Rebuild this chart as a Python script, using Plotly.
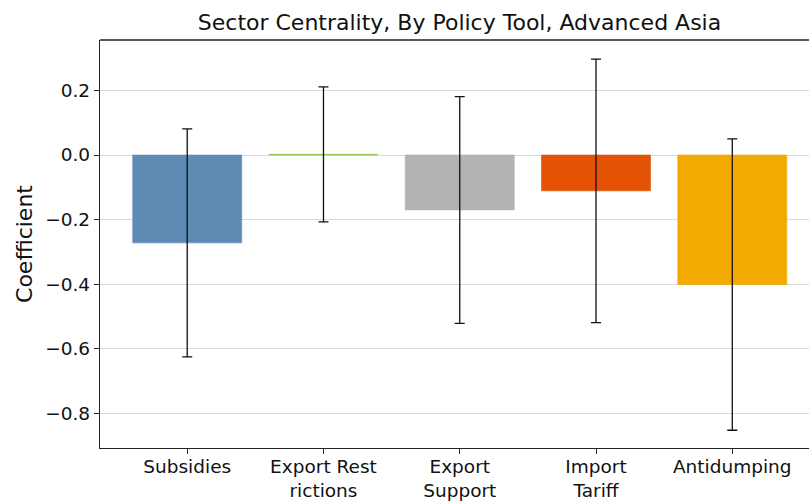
import plotly.graph_objects as go

# Regression coefficients with 95% confidence half-widths, by policy tool
categories = ["Subsidies", "Export Rest<br>rictions", "Export<br>Support", "Import<br>Tariff", "Antidumping"]
coefficients = [-0.272, 0.002, -0.170, -0.111, -0.401]
error_halfwidths = [0.353, 0.209, 0.351, 0.408, 0.451]
bar_colors = ["#5f8ab4", "#8cc63e", "#b2b3b2", "#e35205", "#f2a900"]

positions = list(range(len(categories)))

fig = go.Figure()
fig.add_trace(go.Bar(
    x=positions,
    y=coefficients,
    width=0.8,
    marker=dict(color=bar_colors, line=dict(color=bar_colors, width=0.6)),
    error_y=dict(type="data", array=error_halfwidths, visible=True,
                 color="#111111", thickness=1.3, width=5),
    showlegend=False,
))

font_family = "DejaVu Sans"
fig.update_layout(
    width=809,
    height=502,
    margin=dict(l=100, r=0, t=40, b=54),
    paper_bgcolor="white",
    plot_bgcolor="white",
    font=dict(family=font_family, color="#111111", size=18.5),
    title=dict(text="Sector Centrality, By Policy Tool, Advanced Asia",
               x=(459.5) / 809, xanchor="center", y=1 - 22 / 502, yanchor="middle",
               font=dict(size=22, family=font_family, color="#111111")),
    bargap=0.2,
)
fig.update_xaxes(
    automargin=False,
    range=[-0.64, 4.563],
    tickmode="array",
    tickvals=positions,
    ticktext=categories,
    ticks="outside",
    ticklen=5,
    tickwidth=1.2,
    tickcolor="#222222",
    ticklabelstandoff=-3,
    showline=True,
    linecolor="#222222",
    linewidth=1.3,
    showgrid=False,
    zeroline=False,
    tickfont=dict(size=18.5),
)
fig.update_yaxes(
    automargin=False,
    range=[-0.907, 0.356],
    tickvals=[-0.8, -0.6, -0.4, -0.2, 0.0, 0.2],
    tickformat=".1f",
    ticks="outside",
    ticklen=5,
    tickwidth=1.2,
    tickcolor="#222222",
    showline=True,
    linecolor="#222222",
    linewidth=1.3,
    showgrid=True,
    gridcolor="#d9d9d9",
    gridwidth=1.2,
    zeroline=False,
    tickfont=dict(size=18.5),
    title=dict(text="Coefficient", font=dict(size=22), standoff=6),
)
# top spine of the axes box
fig.add_shape(type="line", xref="paper", yref="paper", x0=0, x1=1, y0=1, y1=1,
              line=dict(color="#222222", width=1.3), layer="above")

fig.write_html("out.html")
